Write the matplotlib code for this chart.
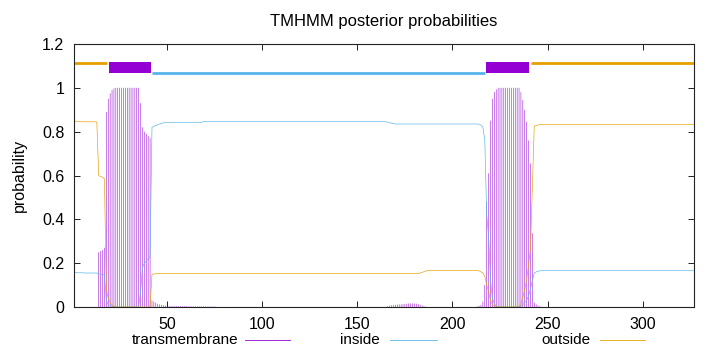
import numpy as np
import matplotlib
matplotlib.use("Agg")
import matplotlib.pyplot as plt
from matplotlib.patches import Rectangle
from matplotlib.lines import Line2D

plt.rcParams['font.family'] = ['Liberation Sans', 'DejaVu Sans']

title = "TMHMM posterior probabilities"
ylabel = "probability"
series_names = ["transmembrane", "inside", "outside"]

# posterior probabilities per residue (1..327)
tm = [
    0, 0, 0, 0, 0, 0, 0, 0, 0, 0,
    0, 0, 0, .25, .255, .26, .27, .89, .95, .975,
    .99, .998, 1, 1, 1, 1, 1, 1, 1, 1,
    1, 1, 1, 1, 1, .93, .82, .80, .79, .78,
    .77, .03, .025, .02, .015, .012, .01, .008, .006, .005,
    .004, .004, .004, .004, .004, .004, .004, .004, .004, .004,
    .003, .003, .003, .003, .003, .003, .003, .003, .003, .003,
    .002, .002, .002, .002, .002, 0, 0, 0, 0, 0,
    0, 0, 0, 0, 0, 0, 0, 0, 0, 0,
    0, 0, 0, 0, 0, 0, 0, 0, 0, 0,
    0, 0, 0, 0, 0, 0, 0, 0, 0, 0,
    0, 0, 0, 0, 0, 0, 0, 0, 0, 0,
    0, 0, 0, 0, 0, 0, 0, 0, 0, 0,
    0, 0, 0, 0, 0, 0, 0, 0, 0, 0,
    0, 0, 0, 0, 0, 0, 0, 0, 0, 0,
    0, 0, 0, 0, 0, 0, 0, 0, 0, 0,
    0, 0, 0, 0, 0, .004, .006, .008, .009, .01,
    .011, .012, .012, .013, .014, .015, .016, .016, .016, .016,
    .015, .013, .01, .007, .004, .002, 0, 0, 0, 0,
    0, 0, 0, 0, 0, 0, 0, 0, 0, 0,
    0, 0, 0, 0, 0, 0, 0, 0, 0, 0,
    0, 0, .003, .005, .01, .025, .1, .48, .61, .85,
    .95, .98, .993, 1, 1, 1, 1, 1, 1, 1,
    1, 1, 1, 1, 1, .98, .944, .9, .845, .76,
    .655, .336, .02, .012, .006, .003, 0, 0, 0, 0,
    0, 0, 0, 0, 0, 0, 0, 0, 0, 0,
    0, 0, 0, 0, 0, 0, 0, 0, 0, 0,
    0, 0, 0, 0, 0, 0, 0, 0, 0, 0,
    0, 0, 0, 0, 0, 0, 0, 0, 0, 0,
    0, 0, 0, 0, 0, 0, 0, 0, 0, 0,
    0, 0, 0, 0, 0, 0, 0, 0, 0, 0,
    0, 0, 0, 0, 0, 0, 0, 0, 0, 0,
    0, 0, 0, 0, 0, 0, 0,
]

inside = [
    .157, .157, .156, .156, .156, .156, .155, .155, .155, .155,
    .155, .155, .155, .15, .15, .148, .145, .03, .01, .005,
    .002, 0, 0, 0, 0, 0, 0, 0, 0, 0,
    0, 0, 0, 0, 0, .07, .18, .2, .21, .22,
    .23, .82, .825, .828, .832, .835, .837, .84, .842, .842,
    .842, .842, .842, .842, .842, .842, .842, .842, .842, .842,
    .842, .842, .842, .842, .842, .842, .842, .842, .846, .846,
    .846, .846, .846, .846, .846, .846, .846, .846, .846, .846,
    .846, .846, .846, .846, .846, .846, .846, .846, .846, .846,
    .846, .846, .846, .846, .846, .846, .846, .846, .846, .846,
    .846, .846, .846, .846, .846, .846, .846, .846, .846, .846,
    .846, .846, .846, .846, .846, .846, .846, .846, .846, .846,
    .846, .846, .846, .846, .846, .846, .846, .846, .846, .846,
    .846, .846, .846, .846, .846, .846, .846, .846, .846, .846,
    .846, .846, .846, .846, .846, .846, .846, .846, .846, .846,
    .846, .846, .846, .846, .846, .846, .846, .846, .846, .846,
    .846, .846, .846, .846, .845, .843, .841, .839, .837, .835,
    .835, .835, .835, .835, .835, .835, .835, .835, .835, .835,
    .835, .835, .835, .835, .835, .835, .835, .835, .835, .835,
    .835, .835, .835, .835, .835, .835, .835, .835, .835, .835,
    .835, .835, .835, .835, .835, .835, .835, .835, .835, .835,
    .835, .835, .835, .834, .83, .82, .76, .42, .32, .12,
    .04, .015, .005, 0, 0, 0, 0, 0, 0, 0,
    0, 0, 0, 0, 0, .005, .01, .02, .03, .05,
    .08, .12, .155, .16, .163, .165, .167, .167, .167, .167,
    .167, .167, .167, .167, .167, .167, .167, .167, .167, .167,
    .167, .167, .167, .167, .167, .167, .167, .167, .167, .167,
    .167, .167, .167, .167, .167, .167, .167, .167, .167, .167,
    .167, .167, .167, .167, .167, .167, .167, .167, .167, .167,
    .167, .167, .167, .167, .167, .167, .167, .167, .167, .167,
    .167, .167, .167, .167, .167, .167, .167, .167, .167, .167,
    .167, .167, .167, .167, .167, .167, .167, .167, .167, .167,
    .167, .167, .167, .167, .167, .167, .167,
]

outside = [
    .846, .846, .846, .846, .845, .845, .845, .845, .845, .845,
    .845, .845, .844, .6, .595, .592, .585, .08, .04, .02,
    .008, .002, 0, 0, 0, 0, 0, 0, 0, 0,
    0, 0, 0, 0, 0, 0, 0, 0, 0, 0,
    0, .15, .15, .152, .153, .153, .153, .153, .153, .153,
    .153, .153, .153, .153, .153, .153, .153, .153, .153, .153,
    .153, .153, .153, .153, .153, .153, .153, .153, .153, .153,
    .153, .153, .153, .153, .153, .153, .153, .153, .153, .153,
    .153, .153, .153, .153, .153, .153, .153, .153, .153, .153,
    .153, .153, .153, .153, .153, .153, .153, .153, .153, .153,
    .153, .153, .153, .153, .153, .153, .153, .153, .153, .153,
    .153, .153, .153, .153, .153, .153, .153, .153, .153, .153,
    .153, .153, .153, .153, .153, .153, .153, .153, .153, .153,
    .153, .153, .153, .153, .153, .153, .153, .153, .153, .153,
    .153, .153, .153, .153, .153, .153, .153, .153, .153, .153,
    .153, .153, .153, .153, .153, .153, .153, .153, .153, .153,
    .153, .153, .153, .153, .153, .153, .153, .153, .153, .153,
    .153, .153, .153, .153, .153, .153, .153, .153, .153, .153,
    .153, .153, .155, .158, .161, .164, .166, .166, .166, .166,
    .166, .166, .166, .166, .166, .166, .166, .166, .166, .166,
    .166, .166, .166, .166, .166, .166, .166, .166, .166, .166,
    .166, .166, .166, .165, .16, .155, .14, .1, .07, .03,
    .01, .005, .002, 0, 0, 0, 0, 0, 0, 0,
    0, 0, 0, 0, 0, .015, .046, .08, .125, .19,
    .265, .544, .825, .828, .831, .832, .833, .833, .833, .833,
    .833, .833, .833, .833, .833, .833, .833, .833, .833, .833,
    .833, .833, .833, .833, .833, .833, .833, .833, .833, .833,
    .833, .833, .833, .833, .833, .833, .833, .833, .833, .833,
    .833, .833, .833, .833, .833, .833, .833, .833, .833, .833,
    .833, .833, .833, .833, .833, .833, .833, .833, .833, .833,
    .833, .833, .833, .833, .833, .833, .833, .833, .833, .833,
    .833, .833, .833, .833, .833, .833, .833, .833, .833, .833,
    .833, .833, .833, .833, .833, .833, .833,
]

# predicted topology segments (residue ranges) for the top bar
topo_start = [1, 19.4, 42.2, 217.8, 241.1]
topo_end = [18.5, 41.4, 217.0, 240.2, 327]
topo_kind = ["outside", "TMhelix", "inside", "TMhelix", "outside"]

xticks = [50, 100, 150, 200, 250, 300]
yticks = [0, 0.2, 0.4, 0.6, 0.8, 1, 1.2]
ytick_labels = ["0", "0.2", "0.4", "0.6", "0.8", "1", "1.2"]

assert len(tm) == len(inside) == len(outside) == 327
res = np.arange(1, len(tm) + 1)

C_TM = '#9400d3'
C_IN = '#56b4e9'
C_OUT = '#e69f00'

fig = plt.figure(figsize=(7.2, 3.52), dpi=100)
ax = fig.add_axes([74 / 720, 45 / 352, 620 / 720, 263 / 352])

thin = 0.5 * 72 / 100  # half a pixel
ax.vlines(res, 0, tm, color=C_TM, lw=thin, snap=False)
ax.plot(res, inside, color=C_IN, lw=thin * 1.3, snap=False)
ax.plot(res, outside, color=C_OUT, lw=thin * 1.3, snap=False)

for s, e, k in zip(topo_start, topo_end, topo_kind):
    if k == "TMhelix":
        ax.add_patch(Rectangle((s, 1.068), e - s, 0.05, facecolor=C_TM,
                               edgecolor='none'))
    elif k == "inside":
        ax.plot([s, e], [1.067, 1.067], color=C_IN, lw=2.0, solid_capstyle='butt')
    else:
        ax.plot([s, e], [1.113, 1.113], color=C_OUT, lw=2.0, solid_capstyle='butt')

ax.set_xlim(1, 327)
ax.set_ylim(0, 1.2)
ax.set_xticks(xticks)
ax.set_yticks(yticks)
ax.set_yticklabels(ytick_labels)
ax.tick_params(direction='in', top=True, right=True, length=4, width=0.6,
               labelsize=11.5, pad=7, colors='black')
for sp in ax.spines.values():
    sp.set_linewidth(0.8)
    sp.set_color('#222222')

ax.set_title(title, fontsize=12, pad=13)
ax.set_ylabel(ylabel, fontsize=11.5, labelpad=11)

# key below the plot
key_y = 1 - 340 / 352
key_text_right = [238, 380, 591]
key_line = [(245, 290), (390, 437), (600, 645)]
for name, tr, (l0, l1), c in zip(series_names, key_text_right, key_line,
                                  [C_TM, C_IN, C_OUT]):
    fig.text(tr / 720, key_y, name, ha='right', va='center', fontsize=11)
    fig.add_artist(Line2D([l0 / 720, l1 / 720], [key_y, key_y], color=c,
                          lw=0.6, transform=fig.transFigure))

fig.savefig("out.png", dpi=100)
